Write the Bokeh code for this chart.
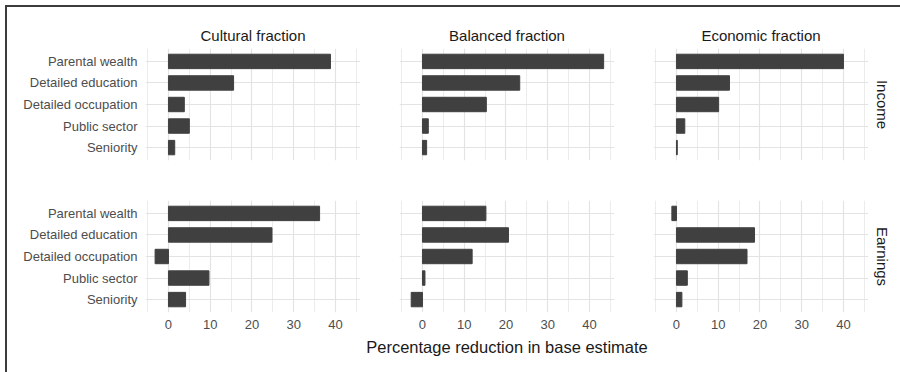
from bokeh.plotting import figure
from bokeh.models import Range1d, FactorRange, FixedTicker, Title, Spacer
from bokeh.layouts import column, row
from bokeh.embed import file_html
from bokeh.resources import INLINE

categories = ["Parental wealth", "Detailed education", "Detailed occupation",
              "Public sector", "Seniority"]
fractions = ["Cultural fraction", "Balanced fraction", "Economic fraction"]
outcomes = ["Income", "Earnings"]

cultural_income = [38.8, 15.6, 3.8, 5.0, 1.5]
balanced_income = [43.4, 23.3, 15.3, 1.4, 1.0]
economic_income = [40.0, 12.7, 10.1, 2.0, 0.2]
cultural_earnings = [36.2, 24.8, -3.2, 9.7, 4.1]
balanced_earnings = [15.2, 20.6, 11.9, 0.6, -2.7]
economic_earnings = [-1.1, 18.7, 16.9, 2.6, 1.3]

x_ticks = [0, 10, 20, 30, 40]
x_minor_ticks = [-5, 5, 15, 25, 35, 45]
x_label = "Percentage reduction in base estimate"

values = {
    ("Income", 0): cultural_income,
    ("Income", 1): balanced_income,
    ("Income", 2): economic_income,
    ("Earnings", 0): cultural_earnings,
    ("Earnings", 1): balanced_earnings,
    ("Earnings", 2): economic_earnings,
}

FONT = "Liberation Sans"
BAR = "#404040"
GRID = "#e3e3e3"
MINOR = "#ececec"

FRAME_W = 215
FRAME_H = 112
left_borders = [138, 39, 39]
right_borders = [0, 0, 32]
top_borders = [41, 20]
bottom_borders = [20, 22]
CAPTION_H = 38


def make_panel(r, c):
    outcome = outcomes[r]
    w = left_borders[c] + FRAME_W + right_borders[c]
    h = top_borders[r] + FRAME_H + bottom_borders[r]
    p = figure(width=w, height=h, output_backend="svg", toolbar_location=None,
               x_range=Range1d(-5.5, 46.0),
               y_range=FactorRange(factors=categories[::-1], range_padding=0.1,
                                   range_padding_units="absolute"),
               min_border_left=left_borders[c], min_border_right=right_borders[c],
               min_border_top=top_borders[r], min_border_bottom=bottom_borders[r])
    p.outline_line_color = None
    p.background_fill_color = "white"
    p.border_fill_color = "white"

    p.hbar(y=categories, left=0, right=values[(outcome, c)], height=0.67,
           fill_color=BAR, line_color=BAR, line_width=1)

    ticker = FixedTicker(ticks=x_ticks, minor_ticks=x_minor_ticks)
    p.xaxis.ticker = ticker
    p.xgrid.ticker = ticker
    p.xgrid.grid_line_color = GRID
    p.xgrid.grid_line_width = 1.2
    p.xgrid.minor_grid_line_color = MINOR
    p.xgrid.minor_grid_line_width = 1
    p.ygrid.grid_line_color = GRID
    p.ygrid.grid_line_width = 1.2

    xa = p.xaxis[0]
    xa.axis_line_color = None
    xa.major_tick_line_color = None
    xa.minor_tick_line_color = None
    xa.major_tick_out = 0
    xa.minor_tick_out = 0
    xa.major_label_text_font = FONT
    xa.major_label_text_font_size = "13px"
    xa.major_label_text_color = "#4d4d4d"
    xa.major_label_standoff = 7
    if r == 0:
        xa.visible = False

    ya = p.yaxis[0]
    ya.axis_line_color = None
    ya.major_tick_line_color = None
    ya.minor_tick_line_color = None
    ya.major_tick_out = 0
    ya.minor_tick_out = 0
    ya.major_label_text_font = FONT
    ya.major_label_text_font_size = "13px"
    ya.major_label_text_color = "#4d4d4d"
    ya.major_label_standoff = 8
    if c != 0:
        ya.visible = False

    if r == 0:
        p.title.text = fractions[c]
        p.title.align = "center"
        p.title.text_font = FONT
        p.title.text_font_size = "15px"
        p.title.text_font_style = "normal"
        p.title.text_color = "#1a1a1a"
    if c == 2:
        p.add_layout(Title(text=outcome, align="center", text_font=FONT,
                           text_font_size="15px", text_font_style="normal",
                           text_color="#1a1a1a"), "right")
    return p


rows = []
for r in range(2):
    rows.append(row(*[make_panel(r, c) for c in range(3)], spacing=0))

# Shared x-axis title, centred under the middle column
total_w = sum(left_borders) + 3 * FRAME_W + sum(right_borders)
cap_left = left_borders[0] + FRAME_W + left_borders[1]
cap = figure(width=total_w, height=CAPTION_H, output_backend="svg",
             toolbar_location=None, x_range=Range1d(0, 1), y_range=Range1d(0, 1),
             min_border_left=cap_left, min_border_right=total_w - cap_left - FRAME_W,
             min_border_top=20, min_border_bottom=0)
cap.xaxis.visible = False
cap.yaxis.visible = False
cap.grid.visible = False
cap.outline_line_color = None
cap.title.text = x_label
cap.title.align = "center"
cap.title.text_font = FONT
cap.title.text_font_size = "16.5px"
cap.title.text_font_style = "normal"
cap.title.text_color = "#1a1a1a"
cap.title.standoff = 2

plots = column(*rows, cap, spacing=0)

top_line = Spacer(width=895, height=2, styles={"background-color": "#3c3c3c"})
left_line = Spacer(width=2, height=365, styles={"background-color": "#3c3c3c"})
layout = column(
    Spacer(width=900, height=5),
    row(Spacer(width=5, height=367), column(top_line, row(left_line, plots))),
)

open("out.html", "w").write(file_html(layout, INLINE))
